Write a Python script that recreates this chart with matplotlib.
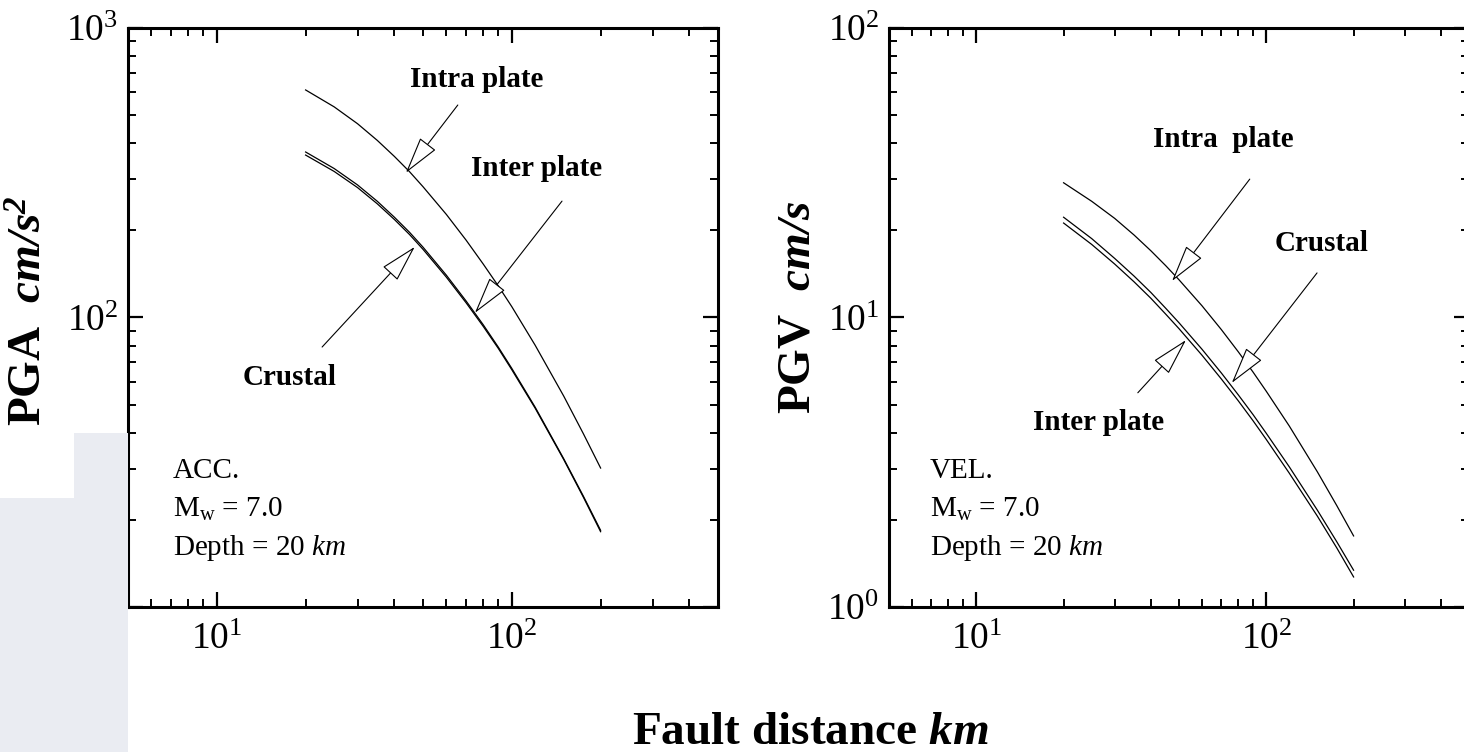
import matplotlib
matplotlib.use("Agg")
import matplotlib.pyplot as plt
from matplotlib.patches import Rectangle
from matplotlib.ticker import FixedLocator, FixedFormatter, LogLocator, NullFormatter

plt.rcParams['font.family'] = ['Liberation Serif', 'DejaVu Serif']
plt.rcParams['mathtext.fontset'] = 'custom'
plt.rcParams['mathtext.rm'] = 'Liberation Serif'
plt.rcParams['mathtext.it'] = 'Liberation Serif:italic'
plt.rcParams['mathtext.bf'] = 'Liberation Serif:italic:bold'

# ---------------- data ----------------
distance = [20, 25, 30, 35, 40, 45, 50, 60, 70, 80, 90, 100, 120, 150, 175, 200]

pga_intra = [611, 534, 467, 409, 360, 319, 283, 227, 185, 153, 128.5, 109, 80.2, 53.5, 39.6, 30.2]
pga_inter = [373, 327, 287, 252, 222, 197, 175, 140, 114, 94.4, 79.0, 66.7, 49.0, 32.5, 24.1, 18.4]
pga_crustal = [364, 319.5, 281, 247, 218, 193.5, 172, 137.8, 112.4, 93.2, 78.2, 66.0, 48.6, 32.3, 23.9, 18.2]

pgv_intra = [29.2, 25.2, 22.0, 19.27, 17.0, 15.1, 13.5, 10.98, 9.08, 7.62, 6.48, 5.56, 4.22, 2.93, 2.24, 1.76]
pgv_crustal = [22.2, 18.73, 16.0, 13.9, 12.2, 10.76, 9.59, 7.77, 6.43, 5.41, 4.62, 3.98, 3.05, 2.16, 1.68, 1.34]
pgv_inter = [21.2, 17.88, 15.3, 13.28, 11.65, 10.27, 9.15, 7.41, 6.13, 5.16, 4.40, 3.79, 2.90, 2.06, 1.60, 1.27]

x_limits = (5, 500)
pga_limits = (10, 1000)
pgv_limits = (1, 100)
x_major = [10, 100]
x_major_labels = [r'$10^{1}$', r'$10^{2}$']
pga_major = [10, 100, 1000]
pga_major_labels = [r'$10^{1}$', r'$10^{2}$', r'$10^{3}$']
pgv_major = [1, 10, 100]
pgv_major_labels = [r'$10^{0}$', r'$10^{1}$', r'$10^{2}$']

W, H = 1464, 752
fig = plt.figure(figsize=(W / 100, H / 100), dpi=100)
fig.patch.set_facecolor('white')

# decorative background picture fragment (bottom-left of the slide)
fig.patches.append(Rectangle((0, 0), 128 / W, (H - 433) / H, transform=fig.transFigure,
                             facecolor='#eaecf2', edgecolor='none', zorder=0))
fig.patches.append(Rectangle((0, (H - 498) / H), 74 / W, 65 / H, transform=fig.transFigure,
                             facecolor='white', edgecolor='none', zorder=0))


def px_axes(x0, x1, y0, y1):
    return [x0 / W, (H - y1) / H, (x1 - x0) / W, (y1 - y0) / H]


axL = fig.add_axes(px_axes(128, 718, 28, 607))
axR = fig.add_axes(px_axes(889, 1469, 28, 607))


def style(ax, ylim, ymaj, ymaj_labels):
    ax.set_xscale('log')
    ax.set_yscale('log')
    ax.set_xlim(*x_limits)
    ax.set_ylim(*ylim)
    ax.xaxis.set_major_locator(FixedLocator(x_major))
    ax.xaxis.set_major_formatter(FixedFormatter(x_major_labels))
    ax.yaxis.set_major_locator(FixedLocator(ymaj))
    ax.yaxis.set_major_formatter(FixedFormatter(ymaj_labels))
    ax.xaxis.set_minor_locator(LogLocator(base=10, subs=range(2, 10), numticks=20))
    ax.yaxis.set_minor_locator(LogLocator(base=10, subs=range(2, 10), numticks=20))
    ax.xaxis.set_minor_formatter(NullFormatter())
    ax.yaxis.set_minor_formatter(NullFormatter())
    ax.tick_params(which='both', direction='in', top=True, right=True, labelsize=27)
    ax.tick_params(which='major', length=11, width=1.6)
    ax.tick_params(which='minor', length=6, width=1.4)
    ax.tick_params(axis='y', which='major', pad=7)
    ax.tick_params(axis='x', which='major', pad=11)
    for s in ax.spines.values():
        s.set_linewidth(2.2)
    ax.set_facecolor('white')


style(axL, pga_limits, pga_major, pga_major_labels)
style(axR, pgv_limits, pgv_major, pgv_major_labels)

lw = 0.9
axL.plot(distance, pga_intra, color='black', lw=lw)
axL.plot(distance, pga_inter, color='black', lw=lw)
axL.plot(distance, pga_crustal, color='black', lw=lw)
axR.plot(distance, pgv_intra, color='black', lw=lw)
axR.plot(distance, pgv_crustal, color='black', lw=lw)
axR.plot(distance, pgv_inter, color='black', lw=lw)

arrow_props = dict(arrowstyle='-|>,head_length=1.2,head_width=0.32', fc='white',
                   ec='black', lw=0.8, mutation_scale=20, shrinkA=0, shrinkB=0)


def label_arrow(ax, text, text_pos, tail, tip):
    ax.text(*text_pos, text, transform=ax.transAxes, ha='center', va='baseline',
            fontsize=21, fontweight='bold')
    ax.annotate('', xy=tip, xycoords='axes fraction', xytext=tail,
                textcoords='axes fraction', arrowprops=arrow_props)


label_arrow(axL, 'Intra plate', (0.5915, 0.898), (0.559, 0.867), (0.471, 0.750))
label_arrow(axL, 'Inter plate', (0.693, 0.744), (0.7356, 0.701), (0.588, 0.508))
label_arrow(axL, 'Crustal', (0.273, 0.383), (0.329, 0.449), (0.486, 0.622))

label_arrow(axR, 'Intra  plate', (0.576, 0.794), (0.622, 0.739), (0.488, 0.563))
label_arrow(axR, 'Crustal', (0.745, 0.615), (0.738, 0.577), (0.591, 0.387))
label_arrow(axR, 'Inter plate', (0.362, 0.306), (0.429, 0.370), (0.512, 0.461))


def info(ax, x0, first):
    lines = [first, r'M$_{\mathrm{w}}$ = 7.0', r'Depth = 20 $km$']
    for ys, t in zip([0.223, 0.155, 0.0898], lines):
        ax.text(x0, ys, t, transform=ax.transAxes, ha='left', va='baseline', fontsize=21)


info(axL, 0.076, 'ACC.')
info(axR, 0.0707, 'VEL.')

fig.text(31 / W, (H - 311) / H, r'PGA  $\mathbf{cm/s^2}$', rotation=90, ha='center',
         va='center', fontsize=34, fontweight='bold')
fig.text(798 / W, (H - 307) / H, r'PGV  $\mathbf{cm/s}$', rotation=90, ha='center',
         va='center', fontsize=34, fontweight='bold')
fig.text(810 / W, (H - 744) / H, r'Fault distance $\mathbf{km}$', ha='center',
         va='baseline', fontsize=34, fontweight='bold')

fig.savefig('out.png', dpi=100)
